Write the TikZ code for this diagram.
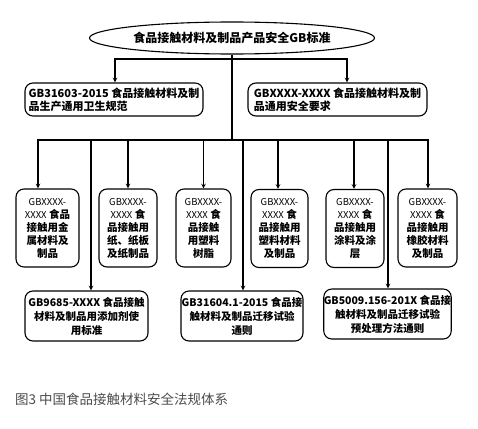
\documentclass[tikz,border=0pt]{standalone}
\usepackage{fontspec}
\setmainfont{Noto Sans CJK SC}
\usepackage{xcolor}
\usepackage{tikz}
\usetikzlibrary{shapes,positioning}
\tikzset{top/.style={ellipse,draw,line width=1.1pt,minimum width=285pt,minimum height=32pt,inner sep=0pt,font=\bfseries\fontsize{12}{14}\selectfont},
  std/.style={rectangle,rounded corners=8pt,draw,line width=1.1pt,inner sep=0pt,align=left,minimum width=178pt,minimum height=33pt,font=\bfseries\fontsize{11}{13}\selectfont},
  sub/.style={rectangle,rounded corners=8pt,draw,line width=1.1pt,inner sep=0pt,align=center,minimum height=78pt,font=\bfseries\fontsize{10.5}{13}\selectfont},
  gen/.style={rectangle,rounded corners=8pt,draw,line width=1.1pt,inner sep=0pt,align=center,minimum width=123pt,minimum height=50pt,font=\bfseries\fontsize{10.5}{14}\selectfont},
  wire/.style={line width=1.1pt}}
\newcommand{\gbx}{{\mdseries\fontsize{9.5}{13}\selectfont GBXXXX-}\\{\mdseries\fontsize{9.5}{13}\selectfont XXXX}}

\begin{document}
\begin{tikzpicture}[>=stealth,x=1pt,y=-1pt]
        \useasboundingbox (0,0) rectangle (478,428);
		\node[top] (root) at (232,38) {食品接触材料及制品产品安全GB标准};
        \node[std] (s1) at (114,99.5) {GB31603-2015 食品接触材料及制\\品生产通用卫生规范};
        \node[std,minimum width=179pt] (s2) at (337.5,99.5) {GBXXXX-XXXX 食品接触材料及制\\品通用安全要求};

        \node[sub,minimum width=63pt] (m1) at (47.5,228) {\gbx{} 食品\\接触用金\\属材料及\\制品};
        \node[sub,minimum width=58pt] (m2) at (128,228) {\gbx{} 食\\品接触用\\纸、纸板\\及纸制品};
        \node[sub,minimum width=55pt] (m3) at (203.5,228) {\gbx{} 食\\品接触\\用塑料\\树脂};
        \node[sub,minimum width=57pt] (m4) at (279.5,228.5) {\gbx{} 食\\品接触用\\塑料材料\\及制品};
        \node[sub,minimum width=58pt] (m5) at (355,228.5) {\gbx{} 食\\品接触用\\涂料及涂\\层};
        \node[sub,minimum width=59pt] (m6) at (427.5,228) {\gbx{} 食\\品接触用\\橡胶材料\\及制品};

        \node[gen] (b1) at (86.5,316) {GB9685-XXXX 食品接触\\材料及制品用添加剂使\\用标准};
        \node[gen,minimum width=122pt] (b2) at (242,316) {GB31604.1-2015 食品接\\触材料及制品迁移试验\\通则};
        \node[gen,minimum width=125pt] (b3) at (387.5,314) {GB5009.156-201X 食品接\\触材料及制品迁移试验\\预处理方法通则};

        \node[anchor=west,text=black!70,font=\fontsize{13.5}{15}\selectfont,inner sep=0pt] (cap) at (15,399) {图3 中国食品接触材料安全法规体系};

        % trunk and bars
        \coordinate (j1) at (232,59);
        \coordinate (j2) at (232,140);
        \draw[wire] (root.south) -- (j2);
        \draw[wire,->] (j1) -| ([xshift=1pt]s1.north);
        \draw[wire,->] (j1) -| ([xshift=9.5pt]s2.north);
        \draw[wire,->] (j2) -| ([xshift=-9.5pt]m1.north);
        \draw[wire,->] (j2) -| (m2.north);
        \draw[wire,->] (j2) -| (m3.north);
        \draw[wire,->] (j2) -| ([xshift=-1.5pt]m4.north);
        \draw[wire,->] (j2) -| ([xshift=-1pt]m5.north);
        \draw[wire,->] (j2) -| ([xshift=0.5pt]m6.north);
        \draw[wire,->] (j2) -| ([xshift=4.5pt]b1.north);
        \draw[wire,->] (j2) -| ([xshift=1pt]b2.north);
        \draw[wire,->] (j2) -| ([xshift=0.5pt]b3.north);
    \end{tikzpicture}
\end{document}
